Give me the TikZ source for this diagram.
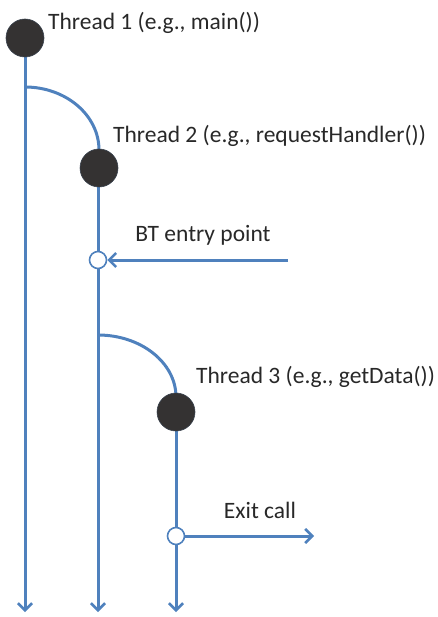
\documentclass[tikz,border=0pt]{standalone}
\usepackage{fontspec}
\setmainfont{Carlito}
\usetikzlibrary{arrows.meta}
\definecolor{lineblue}{RGB}{79,129,189}
\definecolor{dotdark}{RGB}{52,50,50}
\definecolor{txt}{RGB}{40,40,40}
\tikzset{
  x=1pt, y=-1pt,
  flow/.style={draw=lineblue, line width=3pt},
  arr/.style={flow, -{Straight Barb[length=7pt,width=14pt,line width=2.6pt]}},
  bigdot/.style={circle, fill=dotdark, draw=dotdark!80!lineblue, line width=0.6pt, minimum size=38pt, inner sep=0pt},
  opendot/.style={circle, fill=white, draw=lineblue, line width=1.6pt, minimum size=17pt, inner sep=0pt},
  lbl/.style={text=txt, font=\fontsize{23.5}{26}\selectfont, inner sep=0pt, anchor=base west},
}
\begin{document}
\begin{tikzpicture}
\useasboundingbox (0,0) rectangle (438,617);
% thread 1
\coordinate (t1end) at (25,612);
\coordinate (fork1) at (25,87);
\draw[arr] (25,40) -- (t1end);
\draw[flow] (fork1) arc[start angle=270, end angle=360, x radius=74, y radius=63];
\node[bigdot] (d1) at (25,38) {};
\node[lbl] (l1) at (48,30) {Thread 1 (e.g., main())};
% thread 2
\coordinate (t2end) at (98,612);
\coordinate (fork2) at (98,335);
\draw[arr] (98,168) -- (t2end);
\draw[flow] (fork2) arc[start angle=270, end angle=360, x radius=78, y radius=62];
\node[bigdot] (d2) at (99,168) {};
\node[lbl] (l2) at (113,143) {Thread 2 (e.g., requestHandler())};
% BT entry
\node[opendot] (bt) at (98,260) {};
\coordinate (btsrc) at (288,260);
\draw[arr] (btsrc) -- (bt);
\node[lbl, anchor=base] (lbt) at (203,241) {BT entry point};
% thread 3
\coordinate (t3end) at (176,612);
\draw[arr] (176,412) -- (t3end);
\node[bigdot] (d3) at (176,412) {};
\node[lbl] (l3) at (196,383) {Thread 3 (e.g., getData())};
% exit call
\node[opendot] (ex) at (176,536) {};
\coordinate (exdst) at (314,536);
\draw[arr] (ex) -- (exdst);
\node[lbl, anchor=base] (lex) at (260,518) {Exit call};
\end{tikzpicture}
\end{document}
